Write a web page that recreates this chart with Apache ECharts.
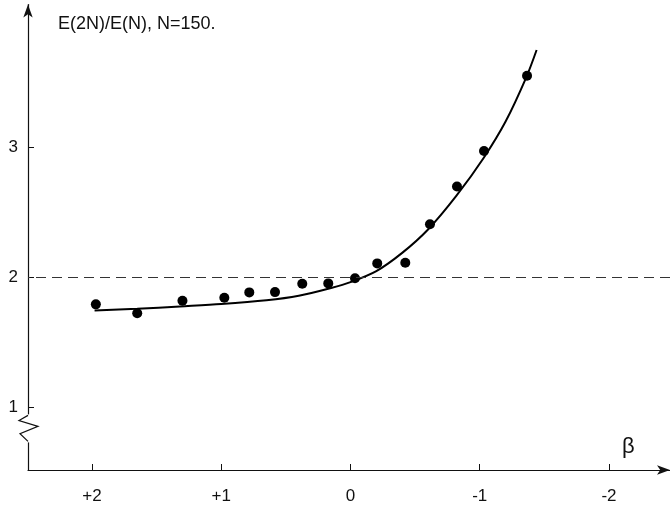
<!DOCTYPE html>
<html>
<head>
<meta charset="utf-8">
<script src="https://cdn.jsdelivr.net/npm/echarts@6/dist/echarts.min.js"></script>
<style>html,body{margin:0;padding:0;background:#fff}#c{width:670px;height:506px}</style>
</head>
<body>
<div id="c"></div>
<script>
// Measured points (beta, E(2N)/E(N))
const pointBeta = [1.97, 1.65, 1.30, 0.976, 0.783, 0.584, 0.373, 0.172, -0.035, -0.207, -0.424, -0.615, -0.824, -1.033, -1.366];
const pointValue = [1.794, 1.725, 1.822, 1.845, 1.886, 1.888, 1.952, 1.955, 1.994, 2.109, 2.114, 2.41, 2.70, 2.973, 3.552];
// Fitted curve
const curveBeta = [1.98, 1.65, 1.32, 1.0, 0.65, 0.4, 0.15, 0.0, -0.2, -0.4, -0.6, -0.82, -1.03, -1.2, -1.36, -1.44];
const curveValue = [1.746, 1.760, 1.778, 1.796, 1.825, 1.86, 1.92, 1.965, 2.05, 2.19, 2.37, 2.63, 2.92, 3.2, 3.54, 3.75];
// Tick labels
const xTicks = [2, 1, 0, -1, -2];
const xTickLabels = ['+2', '+1', '0', '-1', '-2'];
const yTicks = [1, 2, 3];
const yTickLabels = ['1', '2', '3'];
const refLevel = 2;
const titleText = 'E(2N)/E(N), N=150.';
const xName = 'β';

const chart = echarts.init(document.getElementById('c'), null, {renderer: 'canvas'});
const FONT = 'Liberation Sans, Arial, Helvetica, sans-serif';
const xMin = -2.472, xMax = 2.495, yMin = 0.52, yMax = 4.1;

const option = {
  animation: false,
  backgroundColor: '#fff',
  title: {
    text: titleText, left: 53, top: 10,
    textStyle: {fontFamily: FONT, fontWeight: 'normal', fontSize: 18, color: '#111'}
  },
  grid: {left: 28, right: 0, top: 4.5, bottom: 36, containLabel: false},
  xAxis: {
    type: 'value', inverse: true, min: xMin, max: xMax,
    axisLine: {show: true, onZero: false, symbol: ['none', 'arrow'], symbolSize: [7, 13], lineStyle: {color: '#111', width: 1.2}},
    axisTick: {show: true, inside: true, length: 6, customValues: xTicks, lineStyle: {color: '#111'}},
    axisLabel: {show: true, customValues: xTicks, margin: 18, fontFamily: FONT, fontSize: 17, color: '#111',
      formatter: v => xTickLabels[xTicks.indexOf(Math.round(v))] ?? ''},
    splitLine: {show: false}
  },
  yAxis: {
    type: 'value', min: yMin, max: yMax,
    axisLine: {show: true, onZero: false, symbol: ['none', 'arrow'], symbolSize: [7, 13], lineStyle: {color: '#111', width: 1.2}},
    axisTick: {show: true, inside: true, length: 6, customValues: yTicks, lineStyle: {color: '#111'}},
    axisLabel: {show: true, customValues: yTicks, margin: 10, fontFamily: FONT, fontSize: 17, color: '#111',
      formatter: v => yTickLabels[yTicks.indexOf(Math.round(v))] ?? ''},
    splitLine: {show: false}
  },
  series: [
    {
      type: 'line', smooth: 0.3, showSymbol: false, silent: true,
      data: curveBeta.map((b, i) => [b, curveValue[i]]),
      lineStyle: {color: '#000', width: 2},
      markLine: {
        silent: true, symbol: 'none', label: {show: false},
        lineStyle: {color: '#333', width: 1, type: [10, 6]},
        data: [{yAxis: refLevel}]
      }
    },
    {
      type: 'scatter', symbol: 'circle', symbolSize: 10, silent: true,
      data: pointBeta.map((b, i) => [b, pointValue[i]]),
      itemStyle: {color: '#000', opacity: 1}
    }
  ]
};
chart.setOption(option);

// Axis break zigzag and beta label, positioned via the axes
function decorate() {
  const top = chart.convertToPixel({gridIndex: 0}, [xMax, 0.94]);
  const bot = chart.convertToPixel({gridIndex: 0}, [xMax, 0.74]);
  const x0 = top[0], y0 = top[1], y1 = bot[1];
  const h = y1 - y0;
  const pts = [
    [x0, y0], [x0 - 9, y0 + h * 0.2], [x0 + 10, y0 + h * 0.42], [x0 - 8, y0 + h * 0.7], [x0, y1]
  ];
  const betaPos = chart.convertToPixel({gridIndex: 0}, [-2.15, 0.70]);
  chart.setOption({
    graphic: [
      {type: 'line', shape: {x1: x0, y1: y0 - 1, x2: x0, y2: y1 + 1}, style: {stroke: '#fff', lineWidth: 4}, z: 100},
      {type: 'polyline', shape: {points: pts}, style: {stroke: '#111', lineWidth: 1.2, fill: null}, z: 101},
      {type: 'text', x: betaPos[0], y: betaPos[1], style: {text: xName, fontFamily: FONT, fontSize: 22, fill: '#111', align: 'center', verticalAlign: 'middle'}, z: 101}
    ]
  });
}
decorate();
</script>
</body>
</html>
